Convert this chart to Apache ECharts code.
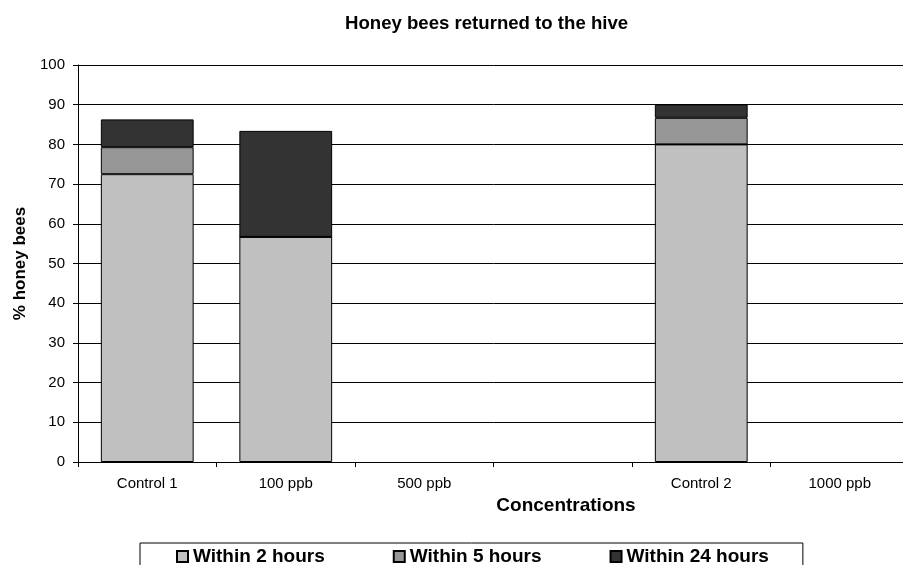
<!DOCTYPE html>
<html>
<head>
<meta charset="utf-8">
<title>Honey bees returned to the hive</title>
<script src="https://cdn.jsdelivr.net/npm/echarts@6/dist/echarts.min.js"></script>
<style>
  html, body { margin: 0; padding: 0; background: #fff; overflow: hidden; }
  /* the plot runs a few px past the right edge in the original, so the canvas is wider than the window */
  #chart { width: 910px; height: 565px; }
</style>
</head>
<body>
<div id="chart"></div>
<script>
// concentrations on the x axis (one empty slot between 500 ppb and Control 2)
const categories = ['Control 1', '100 ppb', '500 ppb', '', 'Control 2', '1000 ppb']

// % of bees back at the hive, stacked by time window (null = no bar drawn)
const within2h = [72.5, 56.7, null, null, 80.0, null]
const within5h = [6.8, 0, null, null, 6.7, null]
const within24h = [7.0, 26.7, null, null, 3.3, null]

const seriesNames = ['Within 2 hours', 'Within 5 hours', 'Within 24 hours']
const yTicks = { min: 0, max: 100, interval: 10 }

const FONT = 'Arial, "Liberation Sans", sans-serif'
const colors = ['#C0C0C0', '#969696', '#333333']

const chart = echarts.init(document.getElementById('chart'))

function barSeries(name, data, color) {
  return {
    type: 'bar',
    name,
    stack: 'bees',
    data,
    barWidth: '67%',
    itemStyle: { color, borderColor: '#000', borderWidth: 1 },
  }
}

const option = {
  animation: false,
  textStyle: { fontFamily: FONT },
  title: {
    text: 'Honey bees returned to the hive',
    left: 345,
    top: 14,
    padding: 0,
    textStyle: { fontFamily: FONT, fontSize: 18.6, fontWeight: 'bold', color: '#000' },
  },
  grid: { left: 78, top: 65, right: 1, height: 397, containLabel: false },
  legend: {
    data: seriesNames,
    left: 140,
    top: 543,
    orient: 'horizontal',
    padding: [4, 34, 8, 36],
    itemGap: 68,
    itemWidth: 11,
    itemHeight: 11,
    borderColor: '#000',
    borderWidth: 1,
    icon: 'rect',
    textStyle: { fontFamily: FONT, fontSize: 19, fontWeight: 'bold', color: '#000' },
  },
  xAxis: {
    type: 'category',
    data: categories,
    name: 'Concentrations',
    nameLocation: 'middle',
    nameGap: 34,
    nameTextStyle: { fontFamily: FONT, fontSize: 19, fontWeight: 'bold', color: '#000', padding: [0, 0, 0, 145] },
    axisLine: { lineStyle: { color: '#000', width: 1 } },
    axisTick: { show: true, alignWithLabel: false, length: 5, lineStyle: { color: '#000' } },
    axisLabel: { fontFamily: FONT, fontSize: 15, color: '#000', margin: 14 },
    splitLine: { show: false },
  },
  yAxis: {
    type: 'value',
    min: yTicks.min,
    max: yTicks.max,
    interval: yTicks.interval,
    name: '% honey bees',
    nameLocation: 'middle',
    nameGap: 48,
    nameTextStyle: { fontFamily: FONT, fontSize: 17, fontWeight: 'bold', color: '#000' },
    axisLine: { show: true, lineStyle: { color: '#000', width: 1 } },
    axisTick: { show: true, length: 5, lineStyle: { color: '#000' } },
    axisLabel: { fontFamily: FONT, fontSize: 15, color: '#000', margin: 13 },
    splitLine: { show: true, lineStyle: { color: '#000', width: 1 } },
  },
  series: [
    barSeries(seriesNames[0], within2h, colors[0]),
    barSeries(seriesNames[1], within5h, colors[1]),
    barSeries(seriesNames[2], within24h, colors[2]),
  ],
}

chart.setOption(option)
</script>
</body>
</html>
